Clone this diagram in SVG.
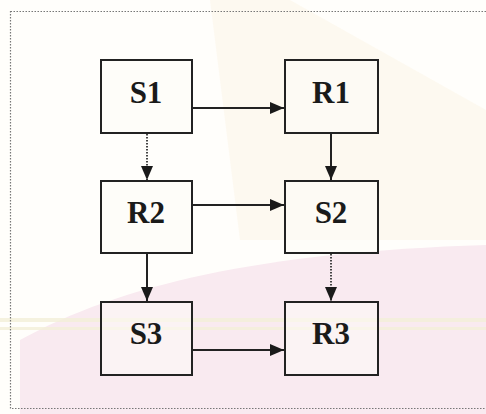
<svg xmlns="http://www.w3.org/2000/svg" width="486" height="414" viewBox="0 0 486 414">
<defs>
<style>
.box{fill:#fdfcf8;fill-opacity:0.5;stroke:#222;stroke-width:2}
.lbl{font-family:"Liberation Serif","Times New Roman",serif;font-weight:bold;font-size:31px;fill:#1a1a1a;text-anchor:middle}
.c{stroke:#222;stroke-width:2;fill:none}
.d{stroke:#444;stroke-width:2;fill:none;stroke-dasharray:1.5 1.5}
</style>
<marker id="ah" viewBox="0 0 14 12" refX="14" refY="6" markerWidth="14" markerHeight="12" markerUnits="userSpaceOnUse" orient="auto">
<path d="M0,0 L14,6 L0,12 Z" fill="#1a1a1a"/>
</marker>
</defs>
<rect width="486" height="414" fill="#fffefb"/>
<path d="M20,414 L20,340 C120,285 260,252 486,245 L486,414 Z" fill="#f9eaf0"/>
<path d="M210,0 L290,0 L486,110 L486,240 L240,240 Z" fill="#f7efd6" opacity="0.3"/>
<rect x="0" y="318" width="486" height="4" fill="#f3efd8" opacity="0.8"/>
<rect x="0" y="327" width="486" height="3" fill="#f3efd8" opacity="0.8"/>
<rect x="10.5" y="11.5" width="490" height="397" fill="none" stroke="#777" stroke-width="1.2" stroke-dasharray="1.5 1.5"/>
<g id="connectors">
<line class="c" x1="193" y1="108" x2="284" y2="108" marker-end="url(#ah)"/>
<line class="c" x1="193" y1="205" x2="284" y2="205" marker-end="url(#ah)"/>
<line class="c" x1="193" y1="350" x2="284" y2="350" marker-end="url(#ah)"/>
<line class="d" x1="147" y1="134" x2="147" y2="180" marker-end="url(#ah)"/>
<line class="c" x1="331" y1="134" x2="331" y2="180" marker-end="url(#ah)"/>
<line class="c" x1="147" y1="254" x2="147" y2="301" marker-end="url(#ah)"/>
<line class="d" x1="331" y1="254" x2="331" y2="301" marker-end="url(#ah)"/>
</g>
<g id="S1"><rect class="box" x="101" y="60" width="91" height="73"/><text class="lbl" x="146" y="103">S1</text></g>
<g id="R1"><rect class="box" x="285" y="60" width="93" height="73"/><text class="lbl" x="331" y="103">R1</text></g>
<g id="R2"><rect class="box" x="101" y="181" width="91" height="72"/><text class="lbl" x="146" y="223">R2</text></g>
<g id="S2"><rect class="box" x="285" y="181" width="93" height="72"/><text class="lbl" x="331" y="223">S2</text></g>
<g id="S3"><rect class="box" x="101" y="302" width="91" height="73"/><text class="lbl" x="146" y="344">S3</text></g>
<g id="R3"><rect class="box" x="285" y="302" width="93" height="73"/><text class="lbl" x="331" y="344">R3</text></g>
</svg>
